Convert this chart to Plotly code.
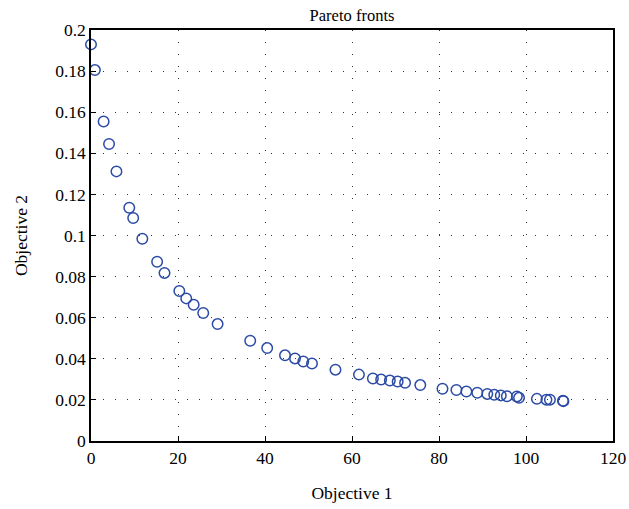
import plotly.graph_objects as go

objective1 = [0.0, 0.9, 2.9, 4.15, 5.85, 8.8, 9.7, 11.8, 15.2, 16.9, 20.3, 21.9, 23.6, 25.8, 29.1,
              36.6, 40.5, 44.6, 46.9, 48.8, 50.8, 56.2, 61.6, 64.8, 66.7, 68.7, 70.5, 72.2, 75.7,
              80.8, 84.0, 86.3, 88.8, 91.1, 92.7, 94.2, 95.6, 97.9, 98.4, 102.5, 104.7, 105.5,
              108.5, 108.6]
objective2 = [0.193, 0.1805, 0.1555, 0.1445, 0.1312, 0.1135, 0.1085, 0.0984, 0.0872, 0.0818,
              0.073, 0.0694, 0.0663, 0.0623, 0.0569, 0.0488, 0.0452, 0.0417, 0.0402, 0.0387,
              0.0377, 0.0347, 0.0323, 0.0304, 0.0299, 0.0294, 0.0289, 0.0283, 0.0272, 0.0254,
              0.0248, 0.0241, 0.0235, 0.0229, 0.0225, 0.0222, 0.0218, 0.0217, 0.021, 0.0205,
              0.0201, 0.0201, 0.0196, 0.0194]

x_ticks = [0, 20, 40, 60, 80, 100, 120]
y_ticks = [0, 0.02, 0.04, 0.06, 0.08, 0.1, 0.12, 0.14, 0.16, 0.18, 0.2]

font_family = "Liberation Serif, Times New Roman, serif"

fig = go.Figure()
fig.add_trace(go.Scatter(
    x=objective1, y=objective2, mode="markers",
    marker=dict(symbol="circle-open", size=10.5, color="#2b4ba6", line=dict(width=1.5, color="#2b4ba6")),
    cliponaxis=False, showlegend=False,
))

axis_common = dict(
    showline=True, linecolor="black", linewidth=1.5, mirror=True,
    ticks="inside", ticklen=5, tickcolor="black", tickwidth=1,
    showgrid=True, gridcolor="#333333", gridwidth=1, griddash="1px,11px",
    zeroline=False, automargin=False,
    tickfont=dict(family=font_family, size=17.5, color="black"),
)

fig.update_layout(
    width=629, height=509,
    margin=dict(l=91, r=16, t=30, b=68),
    paper_bgcolor="white", plot_bgcolor="white",
    title=dict(text="Pareto fronts", x=0.5, xanchor="center", xref="paper",
               y=1, yref="paper", yanchor="bottom", pad=dict(b=9),
               font=dict(family=font_family, size=16.5, color="black")),
    xaxis=dict(range=[0, 120], tickvals=x_ticks,
               title=dict(text="Objective 1", font=dict(family=font_family, size=17.5, color="black"), standoff=20),
               **axis_common),
    yaxis=dict(range=[0, 0.2], tickvals=y_ticks,
               title=dict(text="Objective 2", font=dict(family=font_family, size=17.5, color="black"), standoff=23),
               **axis_common),
)

fig.write_html("out.html")
